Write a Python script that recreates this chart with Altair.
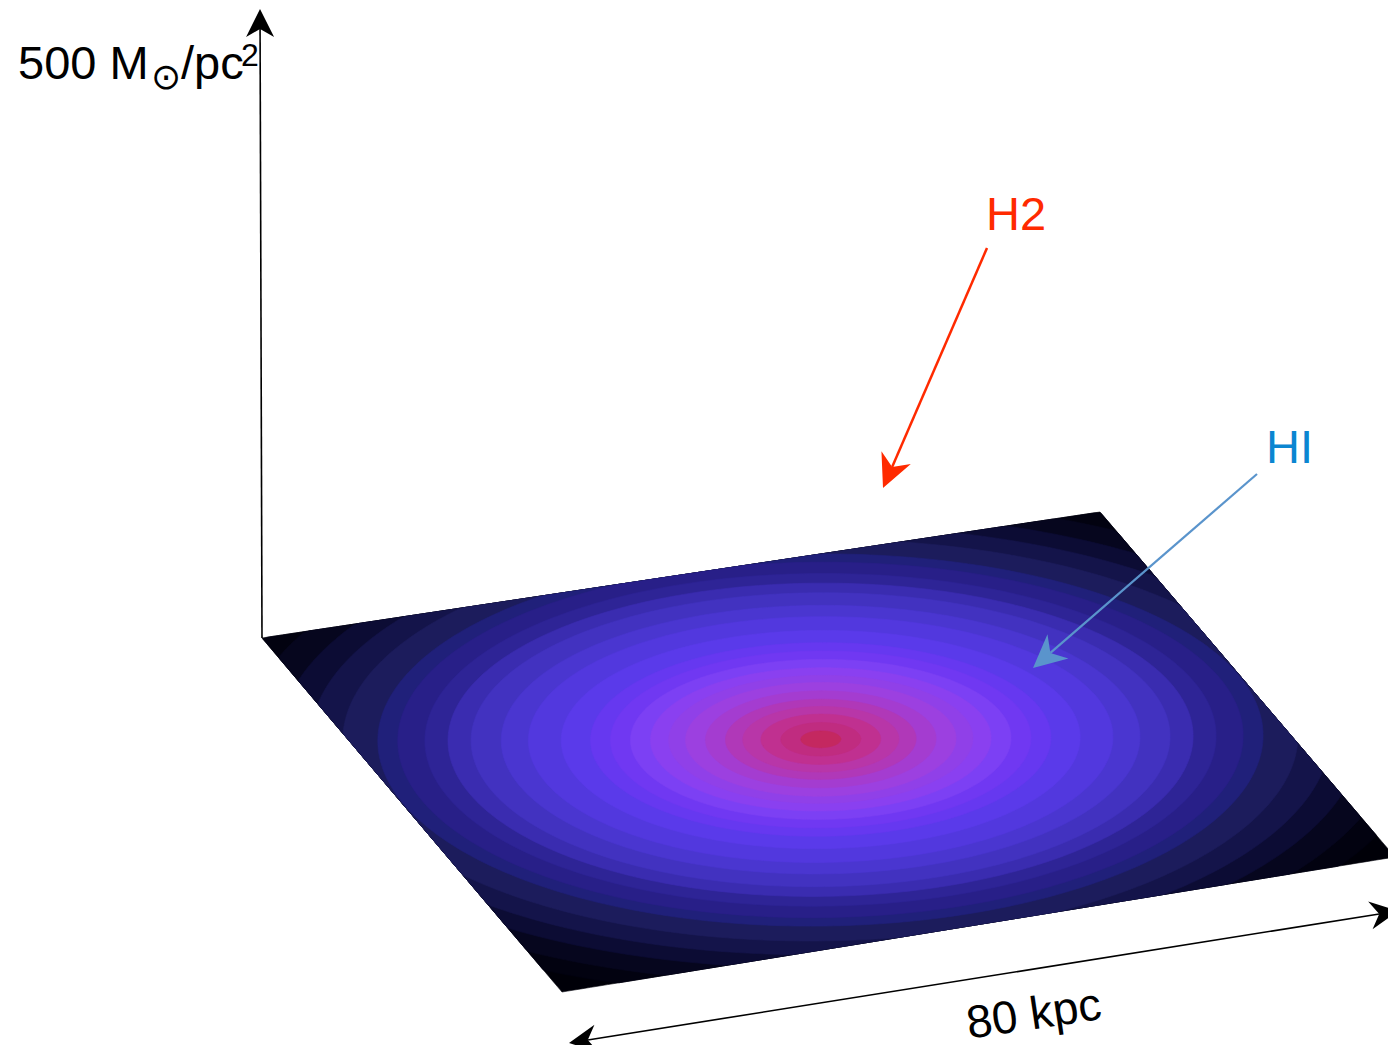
import altair as alt
import pandas as pd
import numpy as np

# ---------------- data ----------------
# surface corners in reference pixel coordinates: top-left, top-right, right, bottom
corner_x = [262, 1100, 1395, 562]
corner_y = [638, 512, 857, 992]
# centre of the density rings in surface coordinates (u: TL->TR, v: TL->bottom)
ring_center_u = 0.50
ring_center_v = 0.47
# ring outer radius (in half-side units), outermost first, and its colour
ring_radius = [1.48, 1.37, 1.30, 1.22, 1.15, 1.077, 0.998, 0.953, 0.892, 0.840,
               0.788, 0.720, 0.659, 0.585, 0.519, 0.474, 0.429, 0.384, 0.343,
               0.305, 0.260, 0.215, 0.176, 0.135, 0.090, 0.045]
ring_color = ["#000008", "#020210", "#06061e", "#0c0c34", "#14144a", "#1c1c5c",
              "#20207a", "#281f88", "#2e2496", "#3a2cb0", "#4232c0", "#4a36d0",
              "#5238de", "#5a3aea", "#6638f0", "#7038f2", "#7c40f4", "#8a40f0",
              "#9040e8", "#9c40e0", "#a43cd0", "#b038b8", "#b836a8", "#c03090",
              "#c02c80", "#c42860"]

# arrows: tail, tip, head length, head half-width, notch depth, colour, line width
arrow_id = ["axis", "scale_a", "scale_b", "h2", "hi"]
arrow_tail_x = [262, 1398, 569, 987, 1257]
arrow_tail_y = [638, 911, 1043, 248, 474]
arrow_tip_x = [260, 569, 1398, 883, 1033]
arrow_tip_y = [9, 1043, 911, 488, 668]
arrow_len = [28, 28, 28, 33, 33]
arrow_half = [14, 14, 14, 16, 16]
arrow_notch = [20, 19, 19, 23, 23]
arrow_color = ["#000000", "#000000", "#000000", "#ff2a00", "#5a94cc"]
arrow_width = [1.6, 1.6, 1.6, 2.5, 2.2]

# texts
label_text = ["500 M", "/pc", "2", "H2", "HI"]
label_x = [18, 181, 241, 986, 1266]
label_y = [79, 79, 66, 230, 463]
label_size = [47, 47, 32, 47, 47]
label_color = ["#000000", "#000000", "#000000", "#ff2a00", "#0b86d1"]

sun_text = "\u2299"
sun_x, sun_y, sun_size = 166, 78, 36

scale_text = "80 kpc"
scale_x, scale_y, scale_size, scale_angle = 1034, 1015, 46, 351.5

# ---------------- build tables ----------------
def to_screen(u, v):
    x = (corner_x[0] * (1 - u) * (1 - v) + corner_x[1] * u * (1 - v)
         + corner_x[2] * u * v + corner_x[3] * (1 - u) * v)
    y = (corner_y[0] * (1 - u) * (1 - v) + corner_y[1] * u * (1 - v)
         + corner_y[2] * u * v + corner_y[3] * (1 - u) * v)
    return x, y

W_PLOT, H_PLOT = 1380, 1037
X = alt.X("x:Q", scale=alt.Scale(domain=[8, 8 + W_PLOT], nice=False, zero=False), axis=None)
Y = alt.Y("y:Q", scale=alt.Scale(domain=[8, 8 + H_PLOT], nice=False, zero=False, reverse=True), axis=None)

layers = []
theta = np.linspace(0, 2 * np.pi, 361)
for k, (R, col) in enumerate(zip(ring_radius, ring_color)):
    r = R * 0.5
    u = np.clip(ring_center_u + r * np.cos(theta), 0, 1)
    v = np.clip(ring_center_v + r * np.sin(theta), 0, 1)
    xs, ys = to_screen(u, v)
    df = pd.DataFrame({"x": xs, "y": ys, "i": np.arange(len(xs)), "c": col})
    layers.append(
        alt.Chart(df).mark_line(filled=True, strokeWidth=0.6).encode(
            x=X, y=Y, order="i:Q",
            fill=alt.Fill("c:N", scale=None),
            stroke=alt.Stroke("c:N", scale=None),
        )
    )

# arrow shafts and heads
shaft_rows, head_rows = [], []
for a in range(len(arrow_id)):
    tx, ty = arrow_tip_x[a], arrow_tip_y[a]
    sx, sy = arrow_tail_x[a], arrow_tail_y[a]
    d = np.array([tx - sx, ty - sy], float)
    d /= np.hypot(*d)
    n = np.array([-d[1], d[0]])
    L, W, N = arrow_len[a], arrow_half[a], arrow_notch[a]
    tip = np.array([tx, ty], float)
    b1 = tip - L * d + W * n
    nt = tip - N * d
    b2 = tip - L * d - W * n
    for j, p in enumerate([tip, b1, nt, b2, tip]):
        head_rows.append({"id": arrow_id[a], "i": j, "x": p[0], "y": p[1], "c": arrow_color[a]})
    if arrow_id[a] != "scale_b":
        if arrow_id[a] == "scale_a":
            other = arrow_id.index("scale_b")
            tx2, ty2 = arrow_tip_x[other], arrow_tip_y[other]
            d2 = np.array([tx2 - arrow_tail_x[other], ty2 - arrow_tail_y[other]], float)
            d2 /= np.hypot(*d2)
            p2 = np.array([tx2, ty2]) - arrow_notch[other] * d2
            shaft_rows.append({"x": nt[0], "y": nt[1], "x2": p2[0], "y2": p2[1],
                               "c": arrow_color[a], "w": arrow_width[a]})
        else:
            shaft_rows.append({"x": sx, "y": sy, "x2": nt[0], "y2": nt[1],
                               "c": arrow_color[a], "w": arrow_width[a]})

shafts = alt.Chart(pd.DataFrame(shaft_rows)).mark_rule().encode(
    x=X, y=Y, x2="x2:Q", y2="y2:Q",
    color=alt.Color("c:N", scale=None),
    strokeWidth=alt.StrokeWidth("w:Q", scale=None),
)
layers.append(shafts)

heads = alt.Chart(pd.DataFrame(head_rows)).mark_line(filled=True, strokeWidth=0).encode(
    x=X, y=Y, order="i:Q", detail="id:N",
    fill=alt.Fill("c:N", scale=None),
)
layers.append(heads)

labels = alt.Chart(pd.DataFrame({
    "x": label_x, "y": label_y, "t": label_text, "s": label_size, "c": label_color
})).mark_text(align="left", baseline="alphabetic", font="Liberation Sans").encode(
    x=X, y=Y, text="t:N",
    size=alt.Size("s:Q", scale=None),
    color=alt.Color("c:N", scale=None),
)
layers.append(labels)

sun = alt.Chart(pd.DataFrame({"x": [sun_x], "y": [sun_y], "t": [sun_text]})).mark_text(
    align="center", baseline="middle", font="DejaVu Sans", fontSize=sun_size, color="#000000"
).encode(x=X, y=Y, text="t:N")
layers.append(sun)

scale_lbl = alt.Chart(pd.DataFrame({"x": [scale_x], "y": [scale_y], "t": [scale_text]})).mark_text(
    align="center", baseline="middle", font="Liberation Sans", fontSize=scale_size,
    angle=scale_angle, color="#000000"
).encode(x=X, y=Y, text="t:N")
layers.append(scale_lbl)

chart = alt.layer(*layers).properties(
    width=W_PLOT, height=H_PLOT, padding=0,
    autosize=alt.AutoSizeParams(type="none"),
    background="#ffffff",
).configure_view(stroke=None)

chart.save("out.html", embed_options={"renderer": "svg", "actions": False})
